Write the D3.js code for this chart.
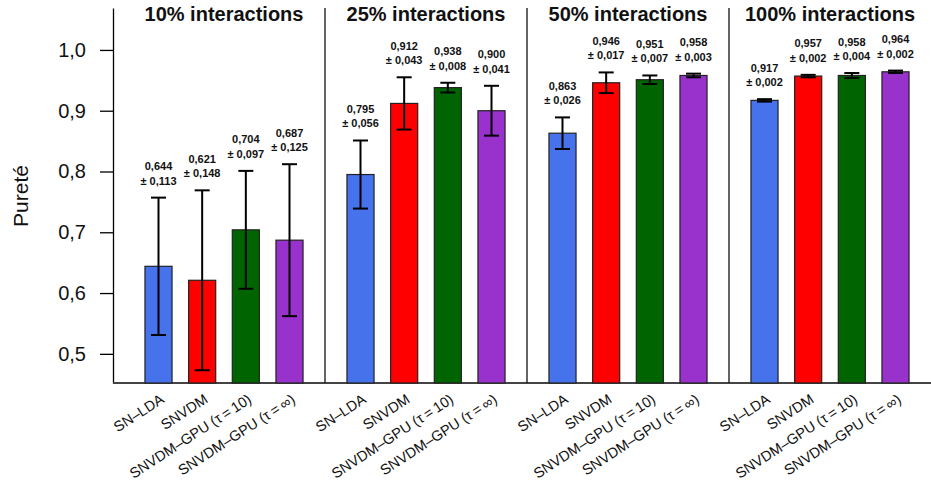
<!DOCTYPE html>
<html lang="fr">
<head>
<meta charset="utf-8">
<title>Pureté</title>
<script src="https://cdn.jsdelivr.net/npm/d3@7"></script>
<style>
  body { margin: 0; background: #fff; }
  svg text { font-family: "Liberation Sans", Arial, Helvetica, sans-serif; }
</style>
</head>
<body>
<div id="chart"></div>
<script>
// data
var panels = ["10% interactions", "25% interactions", "50% interactions", "100% interactions"];
var methods = ["SN\u2013LDA", "SNVDM", "SNVDM\u2013GPU (\u03c4\u2009=\u200910)", "SNVDM\u2013GPU (\u03c4\u2009=\u2009\u221e)"];
var colors = ["#4672ec", "#ff0000", "#006400", "#9932cc"];

// mean purity per panel, one value per method
var means = [
  [0.644, 0.621, 0.704, 0.687],
  [0.795, 0.912, 0.938, 0.900],
  [0.863, 0.946, 0.951, 0.958],
  [0.917, 0.957, 0.958, 0.964]
];
// standard deviations
var errs = [
  [0.113, 0.148, 0.097, 0.125],
  [0.056, 0.043, 0.008, 0.041],
  [0.026, 0.017, 0.007, 0.003],
  [0.002, 0.002, 0.004, 0.002]
];
var yTicks = [0.5, 0.6, 0.7, 0.8, 0.9, 1.0];

var width = 931, height = 489;
var axisX = 113, plotBottom = 383, plotTop = 8;

var svg = d3.select("#chart").append("svg")
    .attr("width", width)
    .attr("height", height);

var y = d3.scaleLinear()
    .domain([0.452, 1.069])
    .range([plotBottom, plotTop]);

var x0 = d3.scaleBand()
    .domain(panels)
    .range([123, width]);

var x1 = d3.scaleBand()
    .domain(methods)
    .range([0, x0.bandwidth()])
    .paddingInner(0.38)
    .paddingOuter(0.503);

var comma = function(v, n) { return d3.format("." + n + "f")(v).replace(".", ","); };

// y axis
var yAxis = svg.append("g")
    .attr("transform", "translate(" + axisX + ",0)")
    .call(d3.axisLeft(y).tickValues(yTicks).tickSize(13).tickSizeOuter(0).tickPadding(14)
      .tickFormat(function(d) { return comma(d, 1); }));
yAxis.select(".domain").attr("stroke", "#000").attr("stroke-width", 1.3);
yAxis.selectAll(".tick line").attr("stroke", "#000").attr("stroke-width", 1.3);
yAxis.selectAll(".tick text").attr("font-size", 20).attr("fill", "#111")
    .attr("font-family", "'Liberation Sans', Arial, sans-serif");

svg.append("text")
    .attr("transform", "translate(28,196) rotate(-90)")
    .attr("text-anchor", "middle")
    .attr("font-size", 21)
    .attr("fill", "#111")
    .text("Pureté");

// bottom line
svg.append("line")
    .attr("x1", axisX).attr("x2", width)
    .attr("y1", plotBottom).attr("y2", plotBottom)
    .attr("stroke", "#444").attr("stroke-width", 2);

// panel separators
svg.selectAll(".sep")
    .data(panels.slice(0, 3))
    .enter().append("line")
    .attr("class", "sep")
    .attr("x1", function(d) { return x0(d) + x0.bandwidth(); })
    .attr("x2", function(d) { return x0(d) + x0.bandwidth(); })
    .attr("y1", plotTop).attr("y2", plotBottom)
    .attr("stroke", "#111").attr("stroke-width", 1.3);

var g = svg.selectAll(".panel")
    .data(panels)
    .enter().append("g")
    .attr("class", "panel")
    .attr("transform", function(d) { return "translate(" + x0(d) + ",0)"; });

g.append("text")
    .attr("x", x0.bandwidth() / 2)
    .attr("y", 21)
    .attr("text-anchor", "middle")
    .attr("font-size", 20)
    .attr("font-weight", "bold")
    .attr("fill", "#111")
    .text(function(d) { return d; });

var cells = g.selectAll(".cell")
    .data(function(d, i) {
      return methods.map(function(m, j) {
        return { method: m, mean: means[i][j], err: errs[i][j], color: colors[j] };
      });
    })
    .enter().append("g")
    .attr("class", "cell")
    .attr("transform", function(d) { return "translate(" + x1(d.method) + ",0)"; });

var bw = x1.bandwidth();

cells.append("rect")
    .attr("x", 0)
    .attr("width", bw)
    .attr("y", function(d) { return y(d.mean); })
    .attr("height", function(d) { return plotBottom - y(d.mean); })
    .attr("fill", function(d) { return d.color; })
    .attr("stroke", "#222")
    .attr("stroke-width", 1.2);

// error bars
cells.append("line")
    .attr("x1", bw / 2).attr("x2", bw / 2)
    .attr("y1", function(d) { return y(d.mean - d.err); })
    .attr("y2", function(d) { return y(d.mean + d.err); })
    .attr("stroke", "#000").attr("stroke-width", 2);
cells.append("line")
    .attr("x1", bw / 2 - 7.5).attr("x2", bw / 2 + 7.5)
    .attr("y1", function(d) { return y(d.mean + d.err); })
    .attr("y2", function(d) { return y(d.mean + d.err); })
    .attr("stroke", "#000").attr("stroke-width", 2);
cells.append("line")
    .attr("x1", bw / 2 - 7.5).attr("x2", bw / 2 + 7.5)
    .attr("y1", function(d) { return y(d.mean - d.err); })
    .attr("y2", function(d) { return y(d.mean - d.err); })
    .attr("stroke", "#000").attr("stroke-width", 2);

// value labels
cells.append("text")
    .attr("x", bw / 2)
    .attr("y", function(d) { return y(d.mean + d.err) - 27.5; })
    .attr("text-anchor", "middle")
    .attr("font-size", 11)
    .attr("font-weight", "bold")
    .attr("fill", "#111")
    .text(function(d) { return comma(d.mean, 3); });
cells.append("text")
    .attr("x", bw / 2)
    .attr("y", function(d) { return y(d.mean + d.err) - 13; })
    .attr("text-anchor", "middle")
    .attr("font-size", 11)
    .attr("font-weight", "bold")
    .attr("fill", "#111")
    .text(function(d) { return "\u00b1 " + comma(d.err, 3); });

// method labels under bars
cells.append("text")
    .attr("transform", "translate(" + (bw / 2 + 1) + ",393) rotate(-33)")
    .attr("text-anchor", "end")
    .attr("dy", "0.72em")
    .attr("font-size", 14.5)
    .attr("fill", "#111")
    .text(function(d) { return d.method; });
</script>
</body>
</html>
